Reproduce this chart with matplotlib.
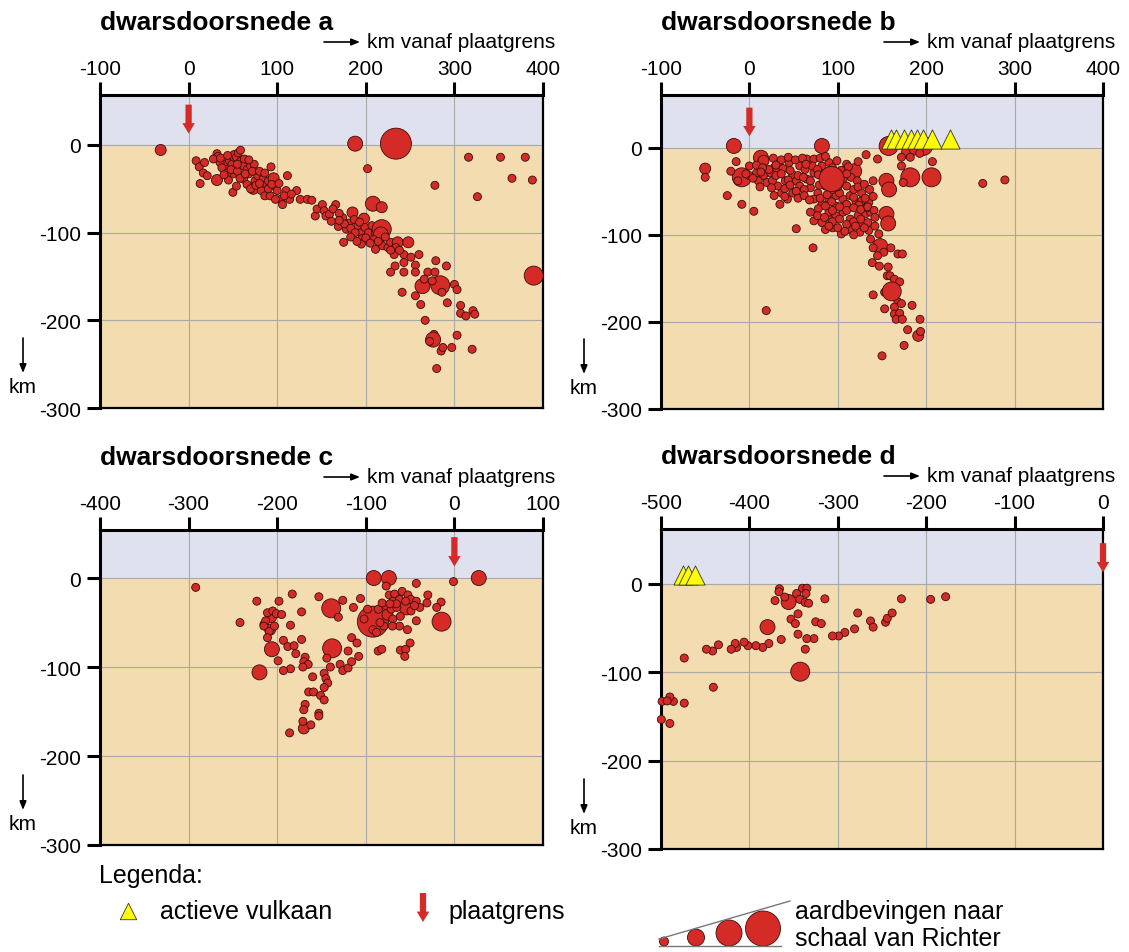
import numpy as np
import matplotlib
matplotlib.use("Agg")
import matplotlib.pyplot as plt
from matplotlib.patches import Circle

plt.rcParams['font.family'] = ['Liberation Sans', 'DejaVu Sans']

# data: (km vanaf plaatgrens, diepte km, grootteklasse)
quakes_a = [
    (-31.5, -5.7, 2), (188, 1.5, 3), (234, 1.5, 6),
    (316, -14, 1), (352, -14, 1), (380, -14, 1), (365, -38, 1), (388, -40, 1), (326, -59, 1),
    (202, -27, 1), (278, -46, 1), (389.5, -149, 4),
    (8.5, -18, 1), (12, -25, 1), (18, -20, 1), (13, -44, 1), (16.6, -32, 1), (21, -35, 1),
    (32, -40, 2), (32, -10, 1), (33, -13, 1), (40, -22, 1), (42, -28, 1), (46, -18, 1),
    (49, -22, 1), (52, -12.5, 2), (54, -14, 1), (56, -9, 1), (58.6, -6, 1), (60, -20, 2),
    (62, -24, 1), (66, -28, 1), (68, -33, 1), (70, -24, 1), (74, -22, 1), (73, -50, 2),
    (75, -41, 1), (78, -35, 1), (84, -39, 1), (88, -45, 1), (90, -41, 1), (93, -25, 1),
    (96, -38, 2), (98, -47, 1), (100, -52, 1), (104, -62, 1), (106, -68, 1), (110, -52, 1),
    (111.5, -35, 1), (114, -62, 1), (122, -52, 1), (126, -62, 1), (134, -62, 1), (139, -63, 1),
    (50, -54, 1), (54, -47, 1), (50, -33, 1), (35.5, -20, 1), (37.6, -26, 1), (43.6, -32, 1),
    (62, -39, 1), (66, -45, 1), (70, -50, 1), (82, -52, 1), (86, -58, 1), (92, -58, 1), (98, -62, 1),
    (28, -16, 1), (36, -15, 1), (44, -12, 1), (48, -28, 1), (55, -30, 1), (58, -38, 1),
    (64, -33, 1), (72, -30, 1), (76, -46, 1), (80, -30, 1), (86, -32, 1), (90, -50, 1),
    (94, -45, 1), (102, -44, 1), (108, -58, 1), (116, -56, 1), (45, -40, 1), (40, -34, 1),
    (55, -22, 1), (63, -16, 1), (68, -17, 1), (80, -44, 1),
    (143, -81, 1), (145, -73, 1), (151, -68, 1), (153, -75, 1), (155, -81, 1), (159, -79, 1),
    (166, -68, 1), (161, -87, 1), (169, -93, 1), (174, -83, 1), (175, -111, 1), (178, -96, 1),
    (181, -89, 1), (185, -77, 2), (187, -85, 1), (191, -92, 1), (195, -100, 1), (198, -84, 2),
    (199, -94, 1), (203, -100, 1), (208, -67, 3), (218, -71, 2), (207, -92, 1), (197, -108, 2),
    (195, -113, 1), (211, -100, 1), (218, -96, 4), (217, -102, 3), (211, -119, 1), (209, -108, 1),
    (219, -115, 1), (225, -117, 1), (228, -111, 1), (236, -111, 2), (248, -111, 2), (232, -125, 1),
    (234, -117, 1), (243, -125, 1), (251, -128, 1), (260, -125, 1), (256, -137, 1), (243, -134, 1),
    (233, -138, 1), (228, -145, 1), (243, -145, 1), (256, -145, 1), (279, -132, 1), (291, -138, 1),
    (270, -145, 1), (278, -145, 1), (264, -161, 3), (266, -153, 1), (284, -160, 4), (275, -155, 1),
    (286, -168, 1), (300, -159, 1), (303, -165, 1), (256, -172, 1), (241, -168, 1), (262, -182, 1),
    (292, -180, 1), (307, -183, 1), (307, -192, 1), (313, -195, 1), (321, -189, 1), (323, -193, 1),
    (267, -200, 1), (303, -217, 1), (277, -216, 1), (276, -222, 3), (285, -235, 1), (287, -231, 1),
    (297, -231, 1), (320, -233, 1), (280, -255, 1), (272, -224, 1),
    (163, -73, 1), (170, -78, 1), (176, -90, 1), (183, -95, 1), (188, -100, 1), (193, -88, 1),
    (200, -106, 1), (205, -112, 1), (214, -110, 1), (222, -105, 1), (228, -120, 1), (238, -120, 1),
    (183, -105, 1), (170, -86, 1), (190, -110, 1),
]

quakes_b = [
    (-17.6, 2, 3), (82, 2, 3), (157.5, 2, 4), (196.5, 2, 4), (13, -11.5, 3), (16, -15, 2),
    (31.6, -25, 3), (-50, -24, 2), (-8.6, -34, 4), (118.5, -27, 3), (155, -38, 3),
    (158, -48, 3), (182, -34, 4), (206, -34, 4), (155, -76, 3), (157, -87, 3), (148, -113, 3),
    (191, -216, 2), (178, -6, 2), (186, -4, 1), (172, -11, 1), (182, -11, 1), (192.6, -6.5, 1),
    (207, -16, 1), (264, -41, 1), (289, -37, 1), (132, -8, 1), (145, -13, 1), (123, -16, 1),
    (140, -38, 1), (172, -21, 1), (174, -40, 1),
    (-50, -34, 1), (-25, -55, 1), (-8.6, -65, 1), (5, -73, 1), (-21, -27, 1), (-15, -16, 1),
    (0, -21, 1), (8, -29, 1), (16, -32, 1), (24, -29, 1), (20, -40, 1), (28, -55, 1),
    (34.5, -65, 1), (32, -44, 1), (40.6, -38, 1), (49, -31, 1), (53, -38, 1), (57, -21, 1),
    (45, -17, 1), (65, -13, 1), (73, -13, 1), (82, -21, 1), (90, -17, 1), (99, -15, 1),
    (110, -19, 1), (36.5, -52, 1), (43, -59, 1), (49, -52, 1), (57, -44, 1), (65, -36, 1),
    (73, -29, 1), (69, -46, 1), (77.5, -52, 1), (86, -44, 1), (73, -59, 1), (82, -65, 1),
    (90, -59, 1), (98, -55, 1), (106, -59, 1), (114, -55, 1), (120.6, -63, 1), (127, -61, 1),
    (135, -63, 1), (69, -74, 1), (73, -84, 1), (82, -86, 1), (90, -82, 1), (98, -78, 1),
    (106, -74, 1), (114, -82, 1), (123, -78, 1), (131, -76, 1), (137, -74, 1), (94, -92, 1),
    (104, -99, 1), (114, -94, 1), (125, -97, 1), (135, -95, 1), (127, -86, 1), (53, -93, 1),
    (72, -115, 1), (19, -187, 1), (0, -32, 1), (-13, -38, 1), (10, -38, 1), (26, -38, 1),
    (22, -25, 1), (55, -32, 1), (63, -25, 1), (71, -21, 1), (86, -29, 1), (98, -29, 1),
    (106, -36, 1), (110, -44, 1), (102, -52, 1), (118, -48, 1), (127, -52, 1), (133, -69, 1),
    (98, -67, 1), (90, -74, 1), (86, -94, 1),
    (27, -12, 1), (36, -14, 1), (44, -11, 1), (52, -14, 1), (60, -12, 1), (80, -12, 1), (86, -10, 1),
    (8, -20, 1), (15, -23, 1), (30, -20, 1), (38, -24, 1), (46, -26, 1), (64, -19, 1), (77, -25, 1),
    (94, -23, 1), (104, -26, 1), (112, -22, 1),
    (-4, -30, 1), (4, -35, 1), (13, -28, 1), (30, -32, 1), (36, -30, 1), (44, -37, 1), (61, -34, 1),
    (69, -38, 1), (78, -31, 1), (115, -34, 1), (122, -38, 1), (110, -30, 1),
    (25, -46, 1), (40, -47, 1), (46, -43, 1), (53, -50, 1), (62, -48, 1), (79, -43, 1), (94, -48, 1),
    (100, -45, 1), (123, -45, 1), (130, -42, 1), (136, -48, 1), (12, -45, 1),
    (40, -56, 1), (55, -58, 1), (62, -55, 1), (68, -60, 1), (80, -58, 1), (88, -54, 1), (93, -62, 1),
    (110, -65, 1), (118, -57, 1), (124, -66, 1), (131, -58, 1), (140, -56, 1),
    (78, -70, 1), (86, -67, 1), (94, -72, 1), (102, -68, 1), (110, -72, 1), (118, -69, 1),
    (126, -71, 1), (134, -68, 1), (141, -72, 1),
    (77, -78, 1), (85, -80, 1), (94, -85, 1), (102, -82, 1), (110, -88, 1), (118, -85, 1),
    (126, -82, 1), (134, -86, 1), (142, -80, 1),
    (90, -90, 1), (100, -92, 1), (108, -96, 1), (120, -90, 1), (130, -92, 1), (142, -90, 1), (118, -100, 1),
    (93, -36, 5),
    (146.4, -99, 1), (137, -105, 1), (140, -115, 1), (152, -120, 1), (160, -115, 1),
    (145, -124, 1), (139, -132, 1), (147, -136, 1), (168, -122, 1), (173, -122, 1),
    (157, -137, 1), (156, -147, 1), (159, -147, 1), (164, -151, 1), (170, -154, 1),
    (140, -169, 1), (153, -166, 1), (164, -171, 1), (168, -177, 1), (153, -185, 1),
    (164, -183, 1), (172, -179, 1), (184, -181, 1), (164, -191, 1), (170, -190, 1),
    (166, -197, 1), (173, -197, 1), (193, -197, 1), (179, -209, 1), (193.6, -211, 1),
    (175, -227, 1), (150, -239, 1), (161, -165, 4),
]

quakes_c = [
    (-92, -49, 6), (-292, -10.5, 1), (-91, 0, 3), (-74, 0, 3), (27.5, 0, 3), (-1, -4, 1),
    (-139, -34, 4), (-14.5, -49, 4), (-138, -79, 4), (-206, -80, 3), (-220, -106, 3),
    (-54, -33, 3), (-75.5, -41, 2), (-207, -44, 2), (-208, -58, 2), (-170, -169, 2),
    (-43, -6, 1), (-30, -19, 1), (-15, -27, 1), (-20, -33, 1), (-31, -28, 1), (-106, -23, 1),
    (-114, -33, 1), (-126, -25, 1), (-153, -21, 1), (-183, -18, 1), (-223, -26, 1), (-198, -26, 1),
    (-172.5, -38, 1), (-131, -44, 1), (-242, -50, 1), (-215, -52, 1), (-185, -53, 1),
    (-193, -70, 1), (-188, -77, 1), (-181, -76, 1), (-172.5, -69, 1), (-179, -85, 1),
    (-168.5, -89, 1), (-170, -94, 1), (-165, -97, 1), (-171, -100, 1), (-185, -102, 1),
    (-193, -104, 1), (-199, -93, 1), (-144, -90, 1), (-140, -100, 1), (-129, -97, 1),
    (-126, -104, 1), (-120, -101, 1), (-116, -94, 1), (-108, -88, 1), (-120, -82, 1),
    (-116, -67, 1), (-110, -73, 1), (-160, -111, 1), (-147, -107, 1), (-145, -113, 1),
    (-143, -118, 1), (-147, -123, 1), (-164.5, -128, 1), (-159, -128, 1), (-151, -132, 1),
    (-147, -137, 1), (-168.5, -142, 1), (-170, -148, 1), (-153, -152, 1), (-153, -155, 1),
    (-171, -161, 1), (-162, -165, 1), (-186, -174, 1), (-86, -82, 1), (-82, -80, 1),
    (-61, -81, 1), (-55, -80, 1), (-56, -88, 1), (-50, -73, 1), (-43, -48, 1), (-53, -58, 1),
    (-62, -54, 1), (-77, -9, 1), (-73.5, -19, 1), (-67.5, -18, 1), (-59, -15, 1),
    (-52.5, -19, 1), (-49, -24, 1), (-43, -26, 1), (-39, -33, 1), (-69.5, -26, 1),
    (-62, -24, 1), (-55, -26, 1), (-77.6, -31, 1), (-71.5, -35, 1), (-65, -33, 1),
    (-86, -35, 1), (-49, -37, 1), (-61, -43, 1), (-69.5, -46, 1), (-79.6, -54, 1),
    (-92, -58, 1), (-88, -61, 1), (-102, -46, 1), (-98, -35, 1), (-70, -54, 1), (-84, -50, 1),
    (-65.5, -29, 1), (-81.6, -28, 1), (-72.7, -29, 1), (-45, -31, 1), (-211, -39, 1),
    (-205, -37, 1), (-201, -40, 1), (-195, -41, 1), (-213, -48, 1), (-215, -54, 1),
    (-209, -60, 1), (-211, -67, 1), (-203, -54, 1),
]

quakes_d = [
    (-355.7, -20.6, 3), (-379.5, -49, 3), (-342.5, -99.4, 4), (-366, -5.6, 1), (-366.6, -9, 1),
    (-371, -19, 1), (-360, -15, 1), (-340, -5, 1), (-335, -5, 1), (-336, -11, 1),
    (-346.6, -11, 1), (-343, -17.6, 1), (-337, -21, 1), (-333, -22, 1), (-314.6, -17, 1),
    (-228, -17, 1), (-195, -17.6, 1), (-178, -14.6, 1), (-345, -34, 1), (-353, -40, 1),
    (-348, -45, 1), (-325, -43, 1), (-318.7, -45, 1), (-277.5, -33, 1), (-263, -42, 1),
    (-260, -49, 1), (-246, -43.5, 1), (-244, -39, 1), (-238.5, -33, 1), (-281, -51, 1),
    (-292, -55, 1), (-299, -59, 1), (-306, -59, 1), (-327, -62, 1), (-335, -62, 1),
    (-345, -57, 1), (-364, -63, 1), (-378, -67.5, 1), (-385, -72, 1), (-392.7, -70, 1),
    (-401.7, -70, 1), (-406, -66, 1), (-414.5, -72, 1), (-416, -67.5, 1), (-420.6, -74, 1),
    (-435, -69, 1), (-441.6, -76, 1), (-448.6, -74, 1), (-473.7, -84, 1), (-336.8, -74, 1),
    (-440.8, -117, 1), (-473.7, -135, 1), (-486, -133, 1), (-490, -128, 1), (-498.8, -133, 1),
    (-493, -132.5, 1), (-499.6, -153.5, 1), (-490, -158, 1),
]

volcanoes_b = [160, 166, 175, 183, 190, 196, 207, 227]
volcanoes_d = [-475, -469, -462]

panels = [
    # title, xticks, quakes, volcanoes, plate boundary x
    ("dwarsdoorsnede a", [-100, 0, 100, 200, 300, 400], quakes_a, [], 0),
    ("dwarsdoorsnede b", [-100, 0, 100, 200, 300, 400], quakes_b, volcanoes_b, 0),
    ("dwarsdoorsnede c", [-400, -300, -200, -100, 0, 100], quakes_c, [], 0),
    ("dwarsdoorsnede d", [-500, -400, -300, -200, -100, 0], quakes_d, volcanoes_d, 0),
]
depth_ticks = [0, -100, -200, -300]

# layout in pixels: left, right, top, bottom, top of y-range
boxes = [(100, 543, 96, 409, 57), (661, 1103, 96, 410, 60.5),
         (100, 543, 531, 846, 54), (661, 1103, 530, 850, 62)]

W, H = 1129, 953
RED = "#d52b27"
EDGE = "#3a0c0c"
SEA = "#dfe1ef"
LAND = "#f3dcb0"
size_px = {1: 8, 2: 11, 3: 15, 4: 19, 5: 25, 6: 31}

fig = plt.figure(figsize=(W / 100, H / 100), dpi=100)
over = fig.add_axes([0, 0, 1, 1], zorder=10)
over.set_xlim(0, W)
over.set_ylim(H, 0)
over.axis("off")

for (title, xt, quakes, volc, plate), (l, r, t, b, ytop) in zip(panels, boxes):
    ax = fig.add_axes([l / W, 1 - b / H, (r - l) / W, (b - t) / H])
    ax.set_xlim(xt[0], xt[-1])
    ax.set_ylim(-300, ytop)
    ax.set_facecolor(LAND)
    ax.axhspan(0, ytop, color=SEA, zorder=0)
    ax.set_axisbelow(True)
    ax.grid(color="#a8a8a8", lw=0.8)
    ax.set_xticks(xt)
    ax.set_xticklabels([str(v) for v in xt])
    ax.set_yticks(depth_ticks)
    ax.set_yticklabels([str(v) for v in depth_ticks])
    ax.xaxis.tick_top()
    ax.tick_params(axis="x", length=9.5, width=2.2, pad=3, labelsize=15)
    ax.tick_params(axis="y", length=9.5, width=2.2, pad=4, labelsize=15)
    for s in ax.spines.values():
        s.set_linewidth(1.6)
    ax.spines["top"].set_linewidth(2.2)
    ax.spines["left"].set_linewidth(2.2)

    qx = [q[0] for q in quakes]
    qz = [q[1] for q in quakes]
    qs = [(size_px[q[2]] * 0.72) ** 2 for q in quakes]
    ax.scatter(qx, qz, s=qs, c=RED, edgecolors=EDGE, linewidths=0.6, zorder=3, clip_on=False)
    if volc:
        ax.scatter(volc, [10] * len(volc), s=190, marker="^", c="#ffff00",
                   edgecolors="#333333", linewidths=0.6, zorder=4)
    ax.annotate("", xy=(plate, 13), xytext=(plate, 46), annotation_clip=False,
                arrowprops=dict(arrowstyle="simple,head_length=0.75,head_width=0.9,tail_width=0.45",
                                color=RED, lw=0, shrinkA=0, shrinkB=0))

    # titels en asbijschriften
    over.text(l, t - 73, title, fontsize=19, fontweight="bold", ha="left", va="center")
    over.text(r + 12, t - 53, "km vanaf plaatgrens", fontsize=15, ha="right", va="center")
    over.annotate("", xy=(r - 183, t - 53), xytext=(r - 219, t - 53),
                  arrowprops=dict(arrowstyle="-|>,head_length=0.5,head_width=0.2", color="black",
                                  lw=1.2, shrinkA=0, shrinkB=0))
    over.annotate("", xy=(l - 77, b - 35), xytext=(l - 77, b - 70),
                  arrowprops=dict(arrowstyle="-|>,head_length=0.5,head_width=0.2", color="black",
                                  lw=1.2, shrinkA=0, shrinkB=0))
    over.text(l - 77, b - 21, "km", fontsize=15, ha="center", va="center")

# legenda
over.text(99, 876, "Legenda:", fontsize=18, ha="left", va="center")
over.scatter([128], [912], s=140, marker="^", c="#ffff00", edgecolors="#333333", linewidths=0.6)
over.text(160, 912, "actieve vulkaan", fontsize=18, ha="left", va="center")
over.annotate("", xy=(423, 923), xytext=(423, 894),
              arrowprops=dict(arrowstyle="simple,head_length=0.75,head_width=0.9,tail_width=0.45",
                              color=RED, lw=0, shrinkA=0, shrinkB=0))
over.text(448, 912, "plaatgrens", fontsize=18, ha="left", va="center")
over.plot([659, 781], [947, 947], color="#777777", lw=1)
over.plot([659, 790], [940, 902], color="#777777", lw=1)
for cx, d in [(664, 9), (696, 17), (729, 26), (763, 35)]:
    over.add_patch(Circle((cx, 947 - d / 2), d / 2, facecolor=RED, edgecolor=EDGE, lw=0.6))
over.text(795, 912, "aardbevingen naar", fontsize=18, ha="left", va="center")
over.text(795, 939, "schaal van Richter", fontsize=18, ha="left", va="center")

fig.savefig("out.png", dpi=100)
